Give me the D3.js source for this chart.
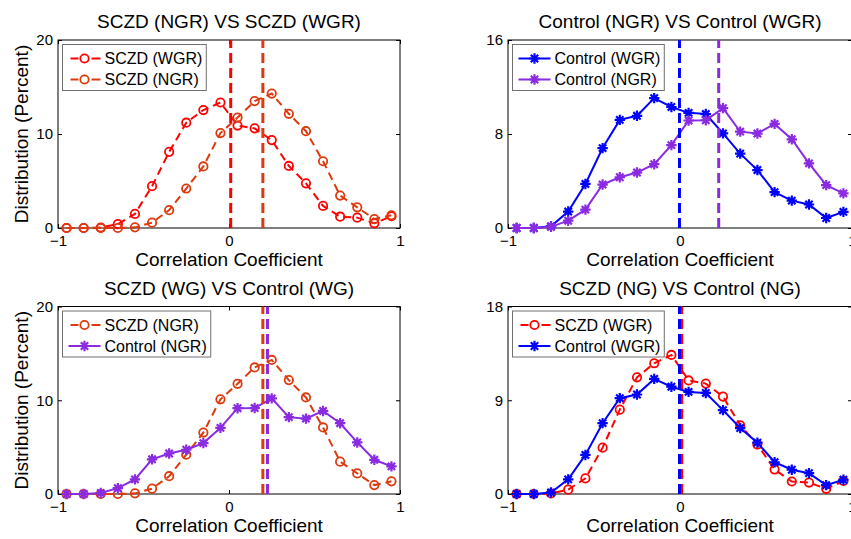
<!DOCTYPE html>
<html>
<head>
<meta charset="utf-8">
<script src="https://cdn.jsdelivr.net/npm/d3@7"></script>
<style>
  html, body { margin: 0; padding: 0; background: #fff; }
  svg { display: block; font-family: "Liberation Sans", Arial, sans-serif; }
</style>
</head>
<body>
<svg id="chart" width="851" height="539"></svg>
<script>
// ---------- DATA ----------
const xBins = [-0.95, -0.85, -0.75, -0.65, -0.55, -0.45, -0.35, -0.25, -0.15, -0.05,
                0.05, 0.15, 0.25, 0.35, 0.45, 0.55, 0.65, 0.75, 0.85, 0.95];

const sczdWGR = [0, 0, 0.05, 0.42, 1.5, 4.45, 8.1, 11.2, 12.55, 13.35,
                 10.9, 10.6, 9.35, 6.6, 4.75, 2.35, 1.2, 1.1, 0.5, 1.25];
const sczdNGR = [0, 0, 0, 0, 0.07, 0.57, 1.9, 4.2, 6.55, 10.1,
                 11.75, 13.5, 14.3, 12.15, 10.3, 7.1, 3.45, 2.2, 0.95, 1.35];
const ctrlWGR = [0, 0, 0.14, 1.4, 3.75, 6.8, 9.2, 9.55, 11.05, 10.3,
                 9.8, 9.7, 8.05, 6.33, 4.93, 3.05, 2.33, 2.0, 0.85, 1.37];
const ctrlNGR = [0, 0, 0.1, 0.62, 1.56, 3.7, 4.32, 4.72, 5.43, 7.05,
                 9.15, 9.17, 10.2, 8.2, 8.04, 8.86, 7.55, 5.5, 3.65, 2.95];

// mean correlation (vertical dashed lines)
const meanSczdWGR = 0.01;
const meanSczdNGR = 0.198;
const meanCtrlWGR = -0.003;
const meanCtrlNGR = 0.225;

const panelTitles = ["SCZD (NGR) VS SCZD (WGR)", "Control (NGR) VS Control (WGR)",
                     "SCZD (WG) VS Control (WG)", "SCZD (NG) VS Control (NG)"];
const yTickSets = [[0, 10, 20], [0, 8, 16], [0, 10, 20], [0, 9, 18]];
const xTickValues = [-1, 0, 1];
const xLabel = "Correlation Coefficient";
const yLabel = "Distribution (Percent)";

// ---------- STYLES ----------
const styles = {
  sczdW: { color: "#ff0000", dash: "8,5", marker: "circle" },
  sczdN: { color: "#dd3a0e", dash: "8,5", marker: "circle" },
  ctrlW: { color: "#0000ff", dash: null, marker: "star" },
  ctrlN: { color: "#8a2be2", dash: null, marker: "star" }
};

const S = {
  sczdW: { name: "SCZD (WGR)", vals: sczdWGR, mean: meanSczdWGR, st: styles.sczdW },
  sczdN: { name: "SCZD (NGR)", vals: sczdNGR, mean: meanSczdNGR, st: styles.sczdN },
  ctrlW: { name: "Control (WGR)", vals: ctrlWGR, mean: meanCtrlWGR, st: styles.ctrlW },
  ctrlN: { name: "Control (NGR)", vals: ctrlNGR, mean: meanCtrlNGR, st: styles.ctrlN }
};

const panels = [
  { left: 58,  top: 40,    w: 342, h: 188,   yTicks: yTickSets[0], title: panelTitles[0], series: [S.sczdW, S.sczdN], ylab: true },
  { left: 508, top: 40,    w: 344, h: 188,   yTicks: yTickSets[1], title: panelTitles[1], series: [S.ctrlW, S.ctrlN], ylab: false },
  { left: 58,  top: 306.5, w: 342, h: 187.5, yTicks: yTickSets[2], title: panelTitles[2], series: [S.sczdN, S.ctrlN], ylab: true },
  { left: 508, top: 306.5, w: 344, h: 187.5, yTicks: yTickSets[3], title: panelTitles[3], series: [S.sczdW, S.ctrlW], ylab: false }
];

const svg = d3.select("#chart");

function starPath(r) {
  const a = r * Math.SQRT1_2;
  return `M${-r},0L${r},0M0,${-r}L0,${r}M${-a},${-a}L${a},${a}M${-a},${a}L${a},${-a}`;
}

function drawMarker(g, type, color, cx, cy) {
  if (type === "circle") {
    g.append("circle").attr("cx", cx).attr("cy", cy).attr("r", 4.2)
      .attr("fill", "none").attr("stroke", color).attr("stroke-width", 1.8);
  } else {
    g.append("path").attr("d", starPath(5.2)).attr("transform", `translate(${cx},${cy})`)
      .attr("fill", "none").attr("stroke", color).attr("stroke-width", 2.2);
  }
}

panels.forEach(p => {
  const g = svg.append("g").attr("transform", `translate(${p.left},${p.top})`);
  const x = d3.scaleLinear().domain([-1, 1]).range([0, p.w]);
  const yMax = p.yTicks[p.yTicks.length - 1];
  const y = d3.scaleLinear().domain([0, yMax]).range([p.h, 0]);

  // axes box
  g.append("rect").attr("x", 0).attr("y", 0).attr("width", p.w).attr("height", p.h)
    .attr("fill", "#fff").attr("stroke", "#000").attr("stroke-width", 1);

  const fmt = d3.format("d");
  const axB = g.append("g").attr("transform", `translate(0,${p.h})`)
    .call(d3.axisBottom(x).tickValues(xTickValues).tickFormat(fmt).tickSizeInner(-4).tickSizeOuter(0).tickPadding(7));
  const axT = g.append("g")
    .call(d3.axisTop(x).tickValues(xTickValues).tickFormat("").tickSizeInner(-4).tickSizeOuter(0));
  const axL = g.append("g")
    .call(d3.axisLeft(y).tickValues(p.yTicks).tickFormat(fmt).tickSizeInner(-4).tickSizeOuter(0).tickPadding(5));
  const axR = g.append("g").attr("transform", `translate(${p.w},0)`)
    .call(d3.axisRight(y).tickValues(p.yTicks).tickFormat("").tickSizeInner(-4).tickSizeOuter(0));
  [axB, axT, axL, axR].forEach(a => {
    a.select(".domain").remove();
    a.selectAll("line").attr("stroke", "#000");
    a.selectAll("text").attr("font-size", 15).attr("fill", "#000")
      .attr("font-family", "'Liberation Sans', Arial, sans-serif");
  });

  // series
  const line = d3.line().x((d, i) => x(xBins[i])).y(d => y(d));
  p.series.forEach(s => {
    const sg = g.append("g");
    sg.append("path").datum(s.vals).attr("d", line)
      .attr("fill", "none").attr("stroke", s.st.color).attr("stroke-width", 2)
      .attr("stroke-dasharray", s.st.dash);
    s.vals.forEach((v, i) => drawMarker(sg, s.st.marker, s.st.color, x(xBins[i]), y(v)));
  });

  // mean lines
  p.series.forEach(s => {
    g.append("line").attr("x1", x(s.mean)).attr("x2", x(s.mean))
      .attr("y1", y(0)).attr("y2", y(yMax))
      .attr("stroke", s.st.color).attr("stroke-width", 3).attr("stroke-dasharray", "10,5");
  });

  // legend
  const lg = g.append("g").attr("transform", "translate(4.5,4.5)");
  const box = lg.append("rect").attr("x", 0).attr("y", 0).attr("height", 46)
    .attr("fill", "#fff").attr("stroke", "#707070").attr("stroke-width", 1);
  let maxW = 0;
  p.series.forEach((s, k) => {
    const cy = 14 + k * 21;
    lg.append("line").attr("x1", s.st.dash ? 8 : 6).attr("x2", 38).attr("y1", cy).attr("y2", cy)
      .attr("stroke", s.st.color).attr("stroke-width", 2).attr("stroke-dasharray", s.st.dash ? "8,13,10" : null);
    drawMarker(lg, s.st.marker, s.st.color, 22, cy);
    const t = lg.append("text").attr("x", 42).attr("y", cy + 5.5).attr("font-size", 16)
      .attr("fill", "#000").text(s.name);
    maxW = Math.max(maxW, t.node().getComputedTextLength());
  });
  box.attr("width", 42 + maxW + 4);

  // title
  g.append("text").attr("x", p.w / 2).attr("y", -12).attr("text-anchor", "middle")
    .attr("font-size", 19).attr("fill", "#000").text(p.title);
  // x label
  g.append("text").attr("x", p.w / 2).attr("y", p.h + 38).attr("text-anchor", "middle")
    .attr("font-size", 19).attr("fill", "#000").text(xLabel);
  // y label
  if (p.ylab) {
    g.append("text").attr("transform", `translate(${28 - p.left},${p.h / 2}) rotate(-90)`)
      .attr("text-anchor", "middle").attr("font-size", 19).attr("fill", "#000").text(yLabel);
  }
});
</script>
</body>
</html>
